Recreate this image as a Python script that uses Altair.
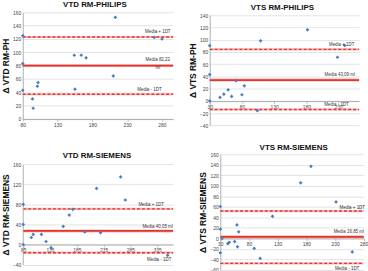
import altair as alt
import pandas as pd

FONT = "Liberation Sans"

# ---------------- data ----------------
P1_X = [80, 80, 80, 94, 95, 101, 102, 154, 155, 164, 171, 210, 213, 269, 280]
P1_Y = [125, 83, 43, 30, 16, 49, 54.5, 95.6, 44.6, 95.6, 91.7, 64.5, 152.6, 122.4, 120]
P1_LINES = [123, 80, 37]

P2_X = [30, 30, 30, 46, 52, 58.6, 64, 71, 80, 83.7, 104, 109, 181.8, 239.6, 228.4]
P2_Y = [90, 43, 0, 5.7, 11, 18, 7.3, 33, 10, 24.5, -15.9, 98, 115.8, 90.5, 71.2]
P2_LINES = [84, 34, -14]

P3_X = [85, 85, 85, 100, 103.5, 119, 127.6, 137, 159.7, 171, 177.6, 200, 222, 229.4, 267, 275.7, 354.8]
P3_Y = [80, 40, 0, 14, 20, 20, 6, -6.5, 36, 58.5, 70, 25, 111.6, 23.6, 134.6, 88.6, -21.6]
P3_LINES = [71, 27, -16.3]

P4_X = [30, 30, 33, 30, 43, 45.5, 55, 59, 62, 60, 89, 99.5, 121, 170, 188, 231.7, 260]
P4_Y = [60.6, 17.5, 0, -27.5, -10, -7.5, -6, 25.6, 12.5, -16, -19, -38, 42, 105.6, 137, 69.4, -25.7]
P4_LINES = [52, 3, -47.5]

P1_LABELS = ["Media + 1DT", "Media 82,22", "ml", "Media - 1DT"]
P1_LAB_X = [274, 274, 274, 262]
P1_LAB_Y = [129.9, 88.3, 76.8, 43.7]

P2_LABELS = ["Media + 1DT", "Media 43,09 ml", "Media - 1DT"]
P2_LAB_X = [235, 232, 227]
P2_LAB_Y = [91.6, 41.6, -6.1]

P3_LABELS = ["Media + 1DT", "Media 40,05 ml", "Media - 1DT"]
P3_LAB_X = [324, 336, 339]
P3_LAB_Y = [79.3, 35.4, -31.5]

P4_LABELS = ["Media + 1DT", "Media 16,85 ml", "Media - 1DT"]
P4_LAB_X = [260, 254, 251]
P4_LAB_Y = [57.9, 12.7, -57.4]

RED = "#E3342F"
PINK = "#F6B8B8"
BLUE = "#4A7EBB"


def panel(title, ytitle, xs, ys, lines, labs, lab_x, lab_y,
          xdom, ydom, xticks, yticks, w, h, xr, yr, xoff, yoff, toff, tdx):
    pts = pd.DataFrame({"x": xs, "y": ys})
    xsc = alt.Scale(domain=xdom, range=xr, nice=False, zero=False)
    ysc = alt.Scale(domain=ydom, range=yr, nice=False, zero=False)
    xax = alt.Axis(values=xticks, title=None, grid=False, offset=xoff,
                   labelFontSize=5, labelColor="#444", labelFont=FONT,
                   domainColor="#9a9a9a", domainWidth=0.8, tickColor="#9a9a9a",
                   tickSize=2.5, tickWidth=0.6, labelPadding=1, labelFlush=False)
    yax = alt.Axis(values=yticks, title=ytitle, grid=True, gridColor="#cfcfcf",
                   gridWidth=0.6, offset=yoff, labelFontSize=5, labelColor="#444",
                   labelFont=FONT, domainColor="#9a9a9a", domainWidth=0.8,
                   ticks=False, labelPadding=2, titleFont=FONT, titleFontSize=8.5,
                   titleFontWeight="bold", titleColor="#111", titlePadding=2,
                   labelFlush=False)
    X = lambda f: alt.X(f, type="quantitative", scale=xsc, axis=xax)
    Y = lambda f: alt.Y(f, type="quantitative", scale=ysc, axis=yax)

    ldf = pd.DataFrame({"x0": [xdom[0]] * 3, "x1": [xdom[1]] * 3,
                        "y": lines, "kind": ["up", "mean", "low"]})
    base_l = alt.Chart(ldf)
    dashed_bg = base_l.transform_filter("datum.kind != 'mean'").mark_rule(
        color=PINK, strokeWidth=2.2).encode(x=X("x0"), x2="x1", y=Y("y"))
    dashed = base_l.transform_filter("datum.kind != 'mean'").mark_rule(
        color=RED, strokeWidth=1.4, strokeDash=[3, 2]).encode(x=X("x0"), x2="x1", y=Y("y"))
    mean_bg = base_l.transform_filter("datum.kind == 'mean'").mark_rule(
        color=PINK, strokeWidth=3).encode(x=X("x0"), x2="x1", y=Y("y"))
    mean = base_l.transform_filter("datum.kind == 'mean'").mark_rule(
        color=RED, strokeWidth=1.8).encode(x=X("x0"), x2="x1", y=Y("y"))

    points = alt.Chart(pts).mark_point(shape="diamond", filled=True, size=14,
                                       color=BLUE, opacity=1).encode(x=X("x"), y=Y("y"))

    tdf = pd.DataFrame({"x": lab_x, "y": lab_y, "t": labs})
    texts = alt.Chart(tdf).mark_text(fontSize=4.5, font=FONT, color="#333",
                                     baseline="middle", align="center").encode(
        x=X("x"), y=Y("y"), text="t:N")

    return alt.layer(dashed_bg, dashed, mean_bg, mean, points, texts).properties(
        width=w, height=h,
        title=alt.TitleParams(title, font=FONT, fontSize=8, fontWeight="bold",
                              color="#111", offset=toff, dx=tdx, anchor="middle"))


p1 = panel("VTD RM-PHILIPS", "Δ VTD RM-PH", P1_X, P1_Y, P1_LINES,
           P1_LABELS, P1_LAB_X, P1_LAB_Y,
           [80, 296], [0, 160], [80, 130, 180, 230, 280], list(range(0, 161, 20)),
           152, 107.7, [0, 152], [107.7, 0], 0, 0, 1, -3)
p2 = panel("VTS RM-PHILIPS", "Δ VTS RM-PH", P2_X, P2_Y, P2_LINES,
           P2_LABELS, P2_LAB_X, P2_LAB_Y,
           [30, 262], [-40, 140], [30, 80, 130, 180, 230], list(range(-40, 141, 20)),
           151, 114.3, [0, 151], [114.3, 2.7], -24.8, 0, 0.3, -2)
p3 = panel("VTD RM-SIEMENS", "Δ VTD RM-SIEMENS", P3_X, P3_Y, P3_LINES,
           P3_LABELS, P3_LAB_X, P3_LAB_Y,
           [85, 365], [-40, 160], [85, 135, 185, 235, 285, 335], list(range(-40, 161, 40)),
           152, 111.6, [0.5, 152], [111.6, 10], -20.3, 0, -5.6, -1)
p4 = panel("VTS RM-SIEMENS", "Δ VTS RM-SIEMENS", P4_X, P4_Y, P4_LINES,
           P4_LABELS, P4_LAB_X, P4_LAB_Y,
           [30, 280], [-60, 160], [30, 80, 130, 180, 230, 280], list(range(-60, 161, 20)),
           155.7, 117, [10.7, 155.7], [117, 0], -31.9, -10.7, 0, 7)

chart = alt.concat(p1, p2, p3, p4, columns=2).properties(
    spacing={"row": 28.4, "column": 37}, bounds="flush", align="each",
    padding={"left": 1, "top": 0, "right": 0, "bottom": 0},
    background="white",
).configure_view(stroke=None)

chart.save("out.html", embed_options={"renderer": "svg", "actions": False})
